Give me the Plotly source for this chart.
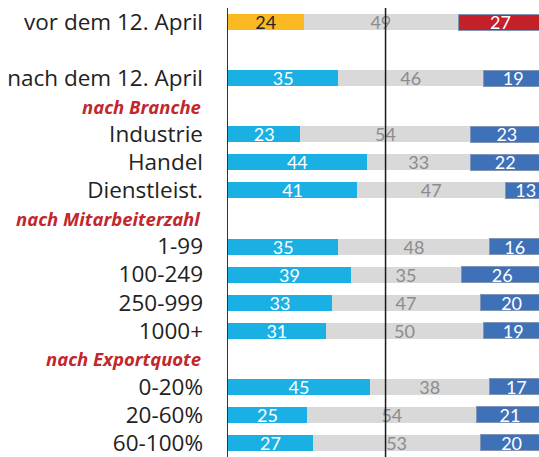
import plotly.graph_objects as go

# ---- data ----
rows = ["vor dem 12. April", "", "nach dem 12. April", "nach Branche", "Industrie", "Handel",
        "Dienstleist.", "nach Mitarbeiterzahl", "1-99", "100-249", "250-999", "1000+",
        "nach Exportquote", "0-20%", "20-60%", "60-100%"]
is_header = [False, False, False, True, False, False, False, True, False, False, False, False,
             True, False, False, False]
first = [24, None, 35, None, 23, 44, 41, None, 35, 39, 33, 31, None, 45, 25, 27]
middle = [49, None, 46, None, 54, 33, 47, None, 48, 35, 47, 50, None, 38, 54, 53]
last = [27, None, 19, None, 23, 22, 13, None, 16, 26, 20, 19, None, 17, 21, 20]

# ---- styling ----
ORANGE, LBLUE = "#FBBA22", "#1BB0E4"
GRAY = "#D9D9D9"
RED, DBLUE = "#C3202A", "#3F71B8"
HEAD_RED = "#C1272D"
VFONT = "Lato"
LFONT = "Open Sans"

pos = list(range(len(rows)))
first_col = [ORANGE if i == 0 else LBLUE for i in pos]
first_txt = ["#262626" if i == 0 else "white" for i in pos]
last_col = [RED if i == 0 else DBLUE for i in pos]

def txt(vals):
    return ["" if v is None else str(v) for v in vals]

fig = go.Figure()
common = dict(orientation="h", y=pos, textposition="inside", insidetextanchor="middle",
              constraintext="none", textangle=0, hoverinfo="skip", cliponaxis=True)
fig.add_trace(go.Bar(x=first, marker=dict(color=first_col, line=dict(width=0)),
                     text=txt(first), textfont=dict(color=first_txt, size=18, family=VFONT), **common))
fig.add_trace(go.Bar(x=middle, marker=dict(color=GRAY, line=dict(width=0)),
                     text=txt(middle), textfont=dict(color="#8C8C8C", size=18, family=VFONT), **common))
fig.add_trace(go.Bar(x=last, marker=dict(color=last_col, line=dict(width=1, color="#8196B5")),
                     text=txt(last), textfont=dict(color="white", size=18, family=VFONT), **common))

tickvals = [p for p, h in zip(pos, is_header) if not h]
ticktext = [r for r, h in zip(rows, is_header) if not h]

annotations = []
for p, r, h in zip(pos, rows, is_header):
    if h:
        annotations.append(dict(x=0, xref="paper", xanchor="right", xshift=-25,
                                y=p, yref="y", yanchor="middle", showarrow=False,
                                text="<b><i>%s</i></b>" % r,
                                font=dict(family=LFONT, size=18.5, color=HEAD_RED)))

fig.update_layout(
    width=539, height=457,
    margin=dict(l=228, r=0, t=8, b=0, autoexpand=False),
    barmode="stack", bargap=0.43,
    plot_bgcolor="white", paper_bgcolor="white",
    showlegend=False,
    xaxis=dict(range=[0, 98.7], showgrid=False, zeroline=False, showticklabels=False,
               fixedrange=True),
    yaxis=dict(range=[len(rows) - 0.5, -0.5], tickvals=tickvals, ticktext=ticktext,
               showgrid=False, zeroline=False, showline=True, linecolor="#333333", linewidth=1.5,
               ticks="", ticklabelstandoff=19, fixedrange=True, ticklabeloverflow="allow",
               tickfont=dict(family=LFONT, size=22.5, color="#222222")),
    annotations=annotations,
    shapes=[dict(type="line", xref="x", yref="paper", x0=50, x1=50, y0=0, y1=1,
                 line=dict(color="#1a1a1a", width=1.5), layer="above")],
)

fig.write_html("out.html", config={"displayModeBar": False, "staticPlot": True},
               post_script="document.body.style.margin='0';document.body.style.overflow='hidden';")
